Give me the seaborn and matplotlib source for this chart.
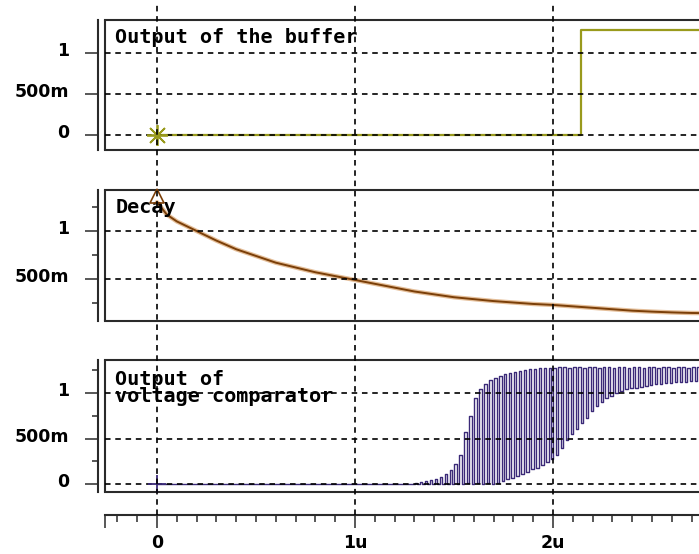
import numpy as np
import pandas as pd
import matplotlib
matplotlib.use("Agg")
import matplotlib.pyplot as plt
import matplotlib.transforms as mtransforms
from matplotlib.lines import Line2D
import seaborn as sns

# ---------------- data ----------------
# time unit: microseconds
x_major = [0, 1, 2]
x_major_labels = ["0", "1u", "2u"]

# Output of the buffer: low until the switching instant, then high
buffer_t = [0.0, 2.14, 2.14, 2.74]
buffer_v = [0.0, 0.0, 1.28, 1.28]

# Decay (node voltage)
decay_t = [0.0, 0.05, 0.1, 0.2, 0.3, 0.4, 0.5, 0.6, 0.7, 0.8, 0.9, 1.0,
           1.1, 1.2, 1.3, 1.4, 1.5, 1.6, 1.7, 1.8, 1.9, 2.0, 2.1, 2.2,
           2.3, 2.4, 2.5, 2.6, 2.7, 2.74]
decay_v = [1.30, 1.17, 1.10, 1.00, 0.90, 0.81, 0.74, 0.67, 0.62, 0.57,
           0.53, 0.49, 0.45, 0.41, 0.37, 0.34, 0.31, 0.29, 0.27, 0.255,
           0.24, 0.23, 0.215, 0.20, 0.185, 0.17, 0.16, 0.152, 0.146, 0.145]

# Output of voltage comparator: oscillating pulses, one peak/trough per clock cycle
comp_start = 1.29     # first pulse (us)
comp_period = 0.025   # clock period (us)
comp_end = 2.74
comp_peak = [0.01, 0.02, 0.03, 0.04, 0.06, 0.08, 0.11, 0.15, 0.22, 0.32,
             0.57, 0.75, 0.94, 1.04, 1.10, 1.14, 1.17, 1.19, 1.21, 1.22,
             1.23, 1.24, 1.25, 1.26, 1.265, 1.27, 1.275, 1.28, 1.28, 1.285,
             1.29, 1.28, 1.29, 1.29, 1.28, 1.29, 1.29, 1.28, 1.29, 1.29,
             1.28, 1.29, 1.29, 1.28, 1.29, 1.29, 1.28, 1.29, 1.29, 1.28,
             1.29, 1.29, 1.28, 1.29, 1.29, 1.28, 1.29, 1.29]
comp_trough = [0.0, 0.0, 0.0, 0.0, 0.0, 0.0, 0.0, 0.0, 0.0, 0.0,
               0.0, 0.01, 0.0, 0.01, 0.0, 0.01, 0.0, 0.01, 0.03, 0.05,
               0.07, 0.09, 0.11, 0.13, 0.16, 0.18, 0.21, 0.24, 0.28, 0.32,
               0.40, 0.48, 0.55, 0.61, 0.67, 0.72, 0.80, 0.86, 0.90, 0.94,
               0.97, 1.00, 1.02, 1.04, 1.05, 1.06, 1.07, 1.08, 1.09, 1.10,
               1.10, 1.11, 1.11, 1.12, 1.12, 1.12, 1.13, 1.13]

panel_titles = ["Output of the buffer", "Decay", "Output of\nvoltage comparator"]

# ---------------- styling ----------------
sns.set_style("white")
plt.rcParams["font.family"] = ["DejaVu Sans"]
plt.rcParams["lines.scale_dashes"] = False

C_BUF = "#999a1c"
C_DEC = "#7b3f08"
C_DEC_HALO = "#d9a36e"
C_CMP = "#3b2a78"
FRAME = "#2a2a2a"
DASH = (0, (4.0, 3.4))

W, H = 699, 554
fig = plt.figure(figsize=(W / 100, H / 100), dpi=100)

LEFT_PX, RIGHT_PX = 105, 699
X0_PX, PX_PER_U = 157, 198.0
xlim = ((LEFT_PX - X0_PX) / PX_PER_U, (RIGHT_PX - X0_PX) / PX_PER_U)


def rect(top, bottom):
    return [LEFT_PX / W, (H - bottom) / H, (RIGHT_PX - LEFT_PX) / W, (bottom - top) / H]


# (top px, bottom px, ylim, major ticks, labels, minor ticks, title offset px)
panels = [
    (20, 150, (-0.183, 1.402), [0, 0.5, 1], ["0", "500m", "1"], [], 8),
    (190, 321, (0.0625, 1.427), [0.5, 1], ["500m", "1"], [0.25, 0.75, 1.25], 8),
    (360, 492, (-0.088, 1.363), [0, 0.5, 1], ["0", "500m", "1"], [0.25, 0.75, 1.25], 10),
]

axes = []
for (top, bot, yl, maj, lab, mnr, toff), title in zip(panels, panel_titles):
    ax = fig.add_axes(rect(top, bot))
    ax.set_xlim(*xlim)
    ax.set_ylim(*yl)
    ax.set_xticks([])
    ax.set_yticks(maj)
    ax.set_yticklabels(lab)
    ax.set_yticks(mnr, minor=True)
    ax.tick_params(axis="y", which="major", direction="out", length=9.5, width=1.1,
                   color=FRAME, pad=11, left=True, labelsize=12.5, labelcolor="black")
    ax.tick_params(axis="y", which="minor", direction="out", length=4.5, width=1.1,
                   color=FRAME, left=True)
    for s in ["top", "bottom"]:
        ax.spines[s].set_color(FRAME)
        ax.spines[s].set_linewidth(1.5)
    ax.spines["right"].set_visible(False)
    ax.spines["left"].set_position(("outward", 5))
    ax.spines["left"].set_color(FRAME)
    ax.spines["left"].set_linewidth(1.5)
    # left edge of the frame box
    ax.plot([0, 0], [0, 1], transform=ax.transAxes, color=FRAME, lw=1.5,
            clip_on=False, solid_capstyle="butt")
    # horizontal dashed grid
    for yv in maj:
        ax.axhline(yv, color="black", lw=1.2, linestyle=DASH, zorder=5)
    ax.annotate(title, xy=(0, 1), xycoords="axes fraction",
                xytext=(7.5, -toff * 0.72), textcoords="offset points",
                ha="left", va="top", fontsize=14.5, fontweight="bold",
                family="DejaVu Sans Mono", linespacing=0.85, zorder=6,
                color="black")
    axes.append(ax)

ax1, ax2, ax3 = axes

# ---- panel 1: buffer ----
df_buf = pd.DataFrame({"t": buffer_t, "v": buffer_v})
sns.lineplot(data=df_buf, x="t", y="v", ax=ax1, estimator=None, sort=False,
             color=C_BUF, lw=1.6, zorder=4)
ax1.plot([buffer_t[0]], [buffer_v[0]], marker=(8, 2, 0), ms=15, mew=1.3,
         color=C_BUF, zorder=6, clip_on=False)

# ---- panel 2: decay ----
df_dec = pd.DataFrame({"t": decay_t, "v": decay_v})
sns.lineplot(data=df_dec, x="t", y="v", ax=ax2, estimator=None, sort=False,
             color=C_DEC_HALO, lw=3.2, alpha=0.7, zorder=3)
sns.lineplot(data=df_dec, x="t", y="v", ax=ax2, estimator=None, sort=False,
             color=C_DEC, lw=1.4, zorder=4)
ax2.plot([decay_t[0]], [decay_v[0] + 0.06], marker="^", ms=10, mew=1.2,
         mfc="none", color=C_DEC, zorder=6, clip_on=False)

# ---- panel 3: comparator ----
half = comp_period / 2
cyc_t = comp_start + comp_period * np.arange(len(comp_peak))
ts = [0.0]
vs = [0.0]
for t0, lo, hi in zip(cyc_t, comp_trough, comp_peak):
    ts += [t0, t0 + half]
    vs += [lo, hi]
ts.append(comp_end)
vs.append(comp_peak[-1])
df_cmp = pd.DataFrame({"t": ts, "v": vs})
sns.lineplot(data=df_cmp, x="t", y="v", ax=ax3, estimator=None, sort=False,
             color=C_CMP, lw=1.0, drawstyle="steps-post", zorder=4)
ax3.plot([0], [0], marker="+", ms=13, mew=1.3, color=C_CMP, zorder=6)

for ax in axes:
    ax.set_xlabel("")
    ax.set_ylabel("")
    off = mtransforms.ScaledTranslation(0, 4 / 100, fig.dpi_scale_trans)
    for t in ax.get_yticklabels():
        t.set_fontweight("bold")
        t.set_fontsize(12.5)
        t.set_color("black")
        t.set_transform(t.get_transform() + off)

# ---- shared x axis at the bottom ----
axx = fig.add_axes([LEFT_PX / W, (H - 515) / H, (RIGHT_PX - LEFT_PX) / W, 0.0001])
axx.set_xlim(*xlim)
axx.set_yticks([])
for s in ["top", "left", "right"]:
    axx.spines[s].set_visible(False)
axx.spines["bottom"].set_color(FRAME)
axx.spines["bottom"].set_linewidth(1.5)
axx.patch.set_alpha(0)
axx.set_xticks([xlim[0]] + x_major)
axx.set_xticklabels([""] + x_major_labels)
minor = [round(v, 1) for v in np.arange(-0.2, 2.75, 0.1) if round(v, 1) not in (0.0, 1.0, 2.0)]
axx.set_xticks(minor, minor=True)
axx.tick_params(axis="x", which="major", direction="out", length=9.5, width=1.1,
                color=FRAME, pad=4, bottom=True, labelsize=12.5, labelcolor="black")
axx.tick_params(axis="x", which="minor", direction="out", length=5, width=1.1,
                color=FRAME, bottom=True)
for t in axx.get_xticklabels():
    t.set_fontweight("bold")

# ---- vertical dashed grid spanning all panels ----
blend = mtransforms.blended_transform_factory(axx.transData, fig.transFigure)
for xv in x_major:
    fig.add_artist(Line2D([xv, xv], [(H - 515) / H, (H - 5) / H], transform=blend,
                          color="black", lw=1.2, linestyle=DASH, zorder=10))

fig.savefig("out.png", dpi=100, facecolor="white")
